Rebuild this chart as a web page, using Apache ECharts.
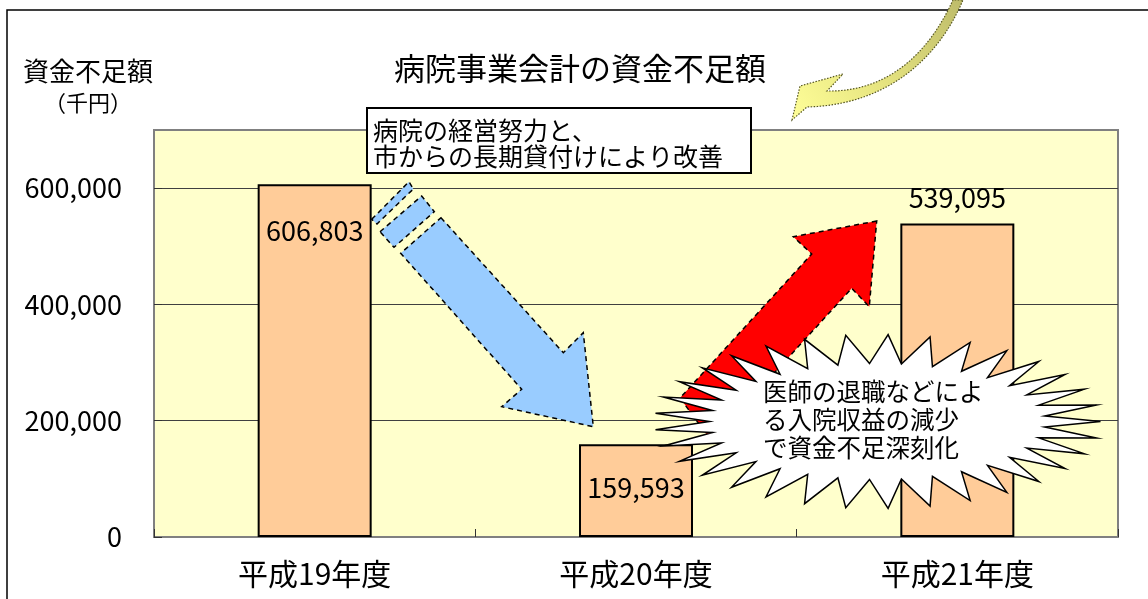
<!DOCTYPE html>
<html lang="ja">
<head>
<meta charset="utf-8">
<title>病院事業会計の資金不足額</title>
<script src="https://cdn.jsdelivr.net/npm/echarts@6/dist/echarts.min.js"></script>
<style>
  html, body { margin: 0; padding: 0; background: #ffffff; }
  #chart { width: 1148px; height: 599px; }
</style>
</head>
<body>
<div id="chart"></div>
<script>
// Fiscal years and the hospital account's funding shortfall (thousand yen)
const categories = ['平成19年度', '平成20年度', '平成21年度'];
const deficit = [606803, 159593, 539095];

// Value-axis range and step
const axisMax = 700000;
const axisStep = 200000;

const FONT = '"Noto Sans CJK JP", "Noto Sans", sans-serif';

// Where each bar's value label sits
const labelPlacement = [
  { position: 'insideTop', distance: 33 },
  { position: 'insideTop', distance: 30 },
  { position: 'top', distance: 12 }
];

const fmt = v => Number(v).toLocaleString('en-US');

// Spiky "explosion" callout outline
function burstPoints(cx, cy, rxOut, ryOut, rxIn, ryIn, n) {
  const pts = [];
  for (let i = 0; i < n; i++) {
    const a = (i / n) * Math.PI * 2;
    const b = ((i + 0.5) / n) * Math.PI * 2;
    pts.push([cx + rxOut * Math.cos(a), cy + ryOut * Math.sin(a)]);
    pts.push([cx + rxIn * Math.cos(b), cy + ryIn * Math.sin(b)]);
  }
  return pts;
}

// Sample a cubic Bézier into points (used for the curved pointer)
function cubic(p0, p1, p2, p3, steps) {
  const out = [];
  for (let i = 0; i <= steps; i++) {
    const t = i / steps, u = 1 - t;
    out.push([
      u * u * u * p0[0] + 3 * u * u * t * p1[0] + 3 * u * t * t * p2[0] + t * t * t * p3[0],
      u * u * u * p0[1] + 3 * u * u * t * p1[1] + 3 * u * t * t * p2[1] + t * t * t * p3[1]
    ]);
  }
  return out;
}

const curvedPointer = [[792, 120], [800, 86], [843, 74]]
  .concat(cubic([827, 91], [870, 92], [920, 72], [953, 0], 24))
  .concat(cubic([963, 0], [940, 55], [890, 105], [807, 107], 24));

const dashed = { stroke: '#000', lineWidth: 1.5, lineDash: [5, 4] };

const chart = echarts.init(document.getElementById('chart'), null, { renderer: 'canvas' });

chart.setOption({
  animation: false,
  backgroundColor: '#ffffff',
  title: {
    text: '病院事業会計の資金不足額',
    left: 580,
    textAlign: 'center',
    top: 53,
    padding: 0,
    textStyle: { fontFamily: FONT, fontSize: 31, fontWeight: 'normal', color: '#000' }
  },
  grid: {
    left: 154, right: 30, top: 130, bottom: 62,
    show: true,
    backgroundColor: '#FFFFCC',
    borderColor: '#808080',
    borderWidth: 2,
    outerBoundsMode: 'none'
  },
  xAxis: {
    type: 'category',
    data: categories,
    axisLine: { show: true, lineStyle: { color: '#808080', width: 2 } },
    axisTick: { show: true, inside: true, length: 8, lineStyle: { color: '#333', width: 1 } },
    axisLabel: { interval: 0, margin: 22, fontFamily: FONT, fontSize: 30, color: '#000' },
    splitLine: { show: false }
  },
  yAxis: {
    type: 'value',
    min: 0,
    max: axisMax,
    interval: axisStep,
    name: '{a|資金不足額}\n{b|（千円）}',
    nameLocation: 'end',
    nameGap: 11,
    nameTextStyle: {
      align: 'center',
      verticalAlign: 'bottom',
      padding: [0, 132, 0, 0],
      rich: {
        a: { fontFamily: FONT, fontSize: 26, lineHeight: 32, color: '#000' },
        b: { fontFamily: FONT, fontSize: 22, lineHeight: 32, color: '#000' }
      }
    },
    axisLine: { show: true, lineStyle: { color: '#808080', width: 2 } },
    axisTick: { show: true, inside: true, length: 8, lineStyle: { color: '#333', width: 1 } },
    axisLabel: {
      margin: 32,
      showMaxLabel: false,
      fontFamily: FONT, fontSize: 27, color: '#000',
      formatter: v => (v === axisMax ? '' : fmt(v))
    },
    splitLine: { show: true, showMinLine: false, showMaxLine: false, lineStyle: { color: '#404040', width: 1 } }
  },
  series: [{
    type: 'bar',
    data: deficit.map((v, i) => ({
      value: v,
      label: { position: labelPlacement[i].position, distance: labelPlacement[i].distance }
    })),
    barWidth: 114,
    itemStyle: { color: '#FFCC99', borderColor: '#000', borderWidth: 2 },
    label: {
      show: true,
      fontFamily: FONT, fontSize: 27, color: '#000',
      formatter: p => fmt(p.value)
    },
    z: 2
  }],
  graphic: [
    // outer frame
    {
      type: 'rect', z: 1,
      shape: { x: 7, y: 10, width: 1300, height: 800 },
      style: { fill: 'none', stroke: '#000', lineWidth: 1.5 }
    },
    // curved pointer toward the title
    {
      type: 'polygon', z: 20,
      shape: { points: curvedPointer },
      style: {
        fill: {
          type: 'linear', x: 1, y: 0, x2: 0, y2: 1,
          colorStops: [
            { offset: 0, color: '#BDBB6A' },
            { offset: 0.55, color: '#E6E480' },
            { offset: 1, color: '#FFFF99' }
          ]
        },
        stroke: '#555522', lineWidth: 1.2, lineDash: [1.5, 1.5]
      }
    },
    // improvement note
    {
      type: 'rect', z: 20,
      shape: { x: 367, y: 108, width: 384, height: 65 },
      style: { fill: '#fff', stroke: '#000', lineWidth: 2 }
    },
    {
      type: 'text', z: 21,
      x: 373, y: 117,
      style: {
        text: '病院の経営努力と、\n市からの長期貸付けにより改善',
        fontFamily: FONT, fontSize: 25, lineHeight: 26,
        fill: '#000', align: 'left', verticalAlign: 'top'
      }
    },
    // downward blue arrow with striped tail
    {
      type: 'polygon', z: 10,
      shape: { points: [[371.7, 219.3], [409, 181.7], [413.3, 189], [377, 224]] },
      style: Object.assign({ fill: '#99CCFF' }, dashed)
    },
    {
      type: 'polygon', z: 10,
      shape: { points: [[380, 231.7], [421.7, 196], [434.3, 211.7], [394, 247.3]] },
      style: Object.assign({ fill: '#99CCFF' }, dashed)
    },
    {
      type: 'polygon', z: 10,
      shape: { points: [[441, 217.7], [563.3, 352.7], [583.3, 332.7], [593.3, 426.7], [501.7, 406.7], [521.7, 389.3], [400.7, 253.3]] },
      style: Object.assign({ fill: '#99CCFF' }, dashed)
    },
    // upward red arrow
    {
      type: 'polygon', z: 10,
      shape: { points: [[876.7, 221], [793.3, 236.7], [811.7, 254], [680, 398], [711.7, 441.3], [851.7, 288.3], [869.3, 306.7]] },
      style: Object.assign({ fill: '#FF0000' }, dashed)
    },
    // explosion callout
    {
      type: 'polygon', z: 12,
      shape: { points: burstPoints(877.5, 421.5, 223, 87, 168, 58, 33) },
      style: { fill: '#fff', stroke: '#000', lineWidth: 1.5 }
    },
    {
      type: 'text', z: 13,
      x: 763, y: 378,
      style: {
        text: '医師の退職などによ\nる入院収益の減少\nで資金不足深刻化',
        fontFamily: FONT, fontSize: 24.5, lineHeight: 28,
        fill: '#000', align: 'left', verticalAlign: 'top'
      }
    }
  ]
});
</script>
</body>
</html>
